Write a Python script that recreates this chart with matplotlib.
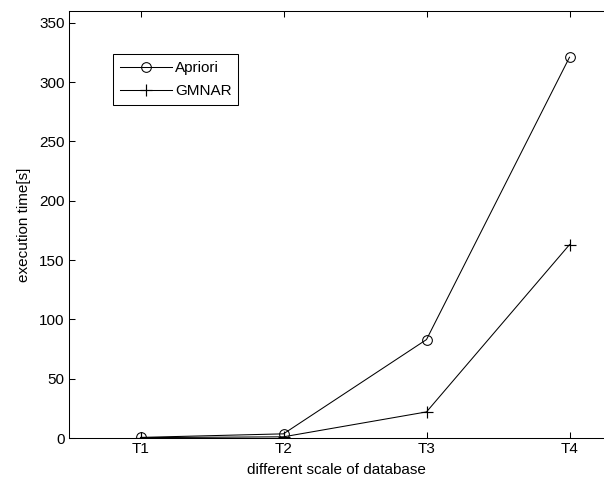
import matplotlib
matplotlib.use("Agg")
import matplotlib.pyplot as plt

categories = ["T1", "T2", "T3", "T4"]
apriori = [0.5, 3.5, 83, 321]
gmnar = [0.3, 1.0, 22, 163]
yticks = [0, 50, 100, 150, 200, 250, 300, 350]

plt.rcParams['font.family'] = ['Liberation Sans', 'DejaVu Sans']
plt.rcParams['font.size'] = 11

fig = plt.figure(figsize=(6.04, 4.82), dpi=100)
left_px, right_px, top_px, bottom_px = 69, 604, 11, 438
ax = fig.add_axes([left_px/604, (482-bottom_px)/482, (right_px-left_px)/604, (bottom_px-top_px)/482])

x = list(range(1, len(categories) + 1))
ax.plot(x, apriori, color='black', lw=0.75, marker='o', ms=7, mfc='none', mec='black', mew=0.75, label='Apriori')
ax.plot(x, gmnar, color='black', lw=0.75, marker='+', ms=8.5, mew=0.85, label='GMNAR')

ax.set_xlim(0.5, 0.5 + (right_px - left_px) / 143.0)
ax.set_ylim(0, 360)
ax.set_xticks(x)
ax.set_xticklabels(categories)
ax.set_yticks(yticks)
ax.tick_params(direction='in', length=4.3, width=0.75, top=True, right=False, pad=3)
for s in ax.spines.values():
    s.set_linewidth(0.75)
ax.spines['right'].set_visible(False)

ax.set_xlabel('different scale of database', labelpad=5)
ax.set_ylabel('execution time[s]', labelpad=6)

axw = right_px - left_px
axh = bottom_px - top_px
leg = ax.legend(loc='upper left', bbox_to_anchor=((113-left_px)/axw, (bottom_px-54)/axh),
                frameon=True, fancybox=False, edgecolor='black', framealpha=1,
                borderpad=0.45, handlelength=3.4, handletextpad=0.2, labelspacing=0.6,
                borderaxespad=0)
leg.get_frame().set_linewidth(0.75)

fig.savefig('out.png', dpi=100)
